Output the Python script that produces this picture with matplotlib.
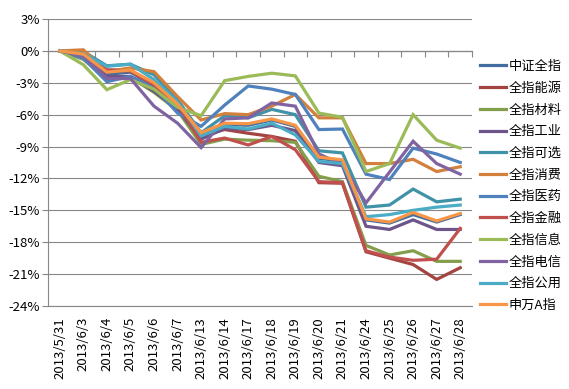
import matplotlib
matplotlib.use('Agg')
import matplotlib.pyplot as plt
import matplotlib.ticker as mticker
import numpy as np

plt.rcParams['font.family'] = ['Noto Sans CJK SC', 'DejaVu Sans']

dates = ['2013/5/31', '2013/6/3', '2013/6/4', '2013/6/5', '2013/6/6', '2013/6/7',
         '2013/6/13', '2013/6/14', '2013/6/17', '2013/6/18', '2013/6/19', '2013/6/20',
         '2013/6/21', '2013/6/24', '2013/6/25', '2013/6/26', '2013/6/27', '2013/6/28']

# cumulative return, %
csi_all = [0, -0.4, -2.2, -2.0, -3.2, -5.2, -7.8, -6.9, -7.0, -6.5, -7.1, -10.1, -10.4, -15.9, -16.2, -15.4, -16.1, -15.4]
energy = [0, -0.4, -1.8, -1.8, -3.6, -5.3, -8.0, -7.4, -7.75, -8.05, -8.5, -12.4, -12.45, -18.9, -19.5, -20.1, -21.5, -20.4]
materials = [0, -0.8, -2.6, -2.5, -3.9, -5.6, -8.8, -8.3, -8.4, -8.45, -8.6, -11.8, -12.3, -18.3, -19.2, -18.8, -19.8, -19.8]
industry = [0, -0.5, -2.4, -2.4, -3.8, -5.5, -8.3, -7.3, -7.4, -7.0, -7.5, -10.5, -10.8, -16.5, -16.8, -15.9, -16.8, -16.8]
discretionary = [0, -0.05, -1.4, -1.25, -2.25, -4.6, -7.7, -6.1, -6.3, -5.5, -6.0, -9.4, -9.6, -14.7, -14.5, -13.0, -14.2, -13.95]
staples = [0, 0.1, -1.95, -1.6, -1.95, -4.3, -6.5, -5.9, -6.0, -5.2, -4.1, -6.3, -6.3, -10.6, -10.6, -10.2, -11.35, -10.9]
health = [0, -0.7, -2.9, -2.4, -3.4, -5.85, -7.1, -5.1, -3.3, -3.6, -4.1, -7.4, -7.35, -11.6, -12.1, -9.15, -9.7, -10.5]
finance = [0, -0.5, -1.8, -1.9, -3.2, -5.0, -8.6, -8.2, -8.85, -8.05, -9.3, -12.3, -12.4, -18.8, -19.4, -19.7, -19.6, -16.7]
info_tech = [0, -1.3, -3.65, -2.7, -3.6, -5.3, -6.1, -2.8, -2.4, -2.1, -2.35, -5.85, -6.25, -11.35, -10.6, -6.0, -8.4, -9.15]
telecom = [0, -0.5, -2.6, -2.6, -5.2, -6.8, -9.1, -6.4, -6.3, -4.9, -5.2, -9.7, -10.7, -14.3, -11.4, -8.5, -10.6, -11.6]
utilities = [0, -0.3, -1.45, -1.25, -2.7, -4.8, -8.0, -7.1, -7.35, -6.8, -7.9, -10.4, -10.6, -15.6, -15.4, -15.0, -14.7, -14.5]
sw_a = [0, -0.3, -2.0, -1.8, -3.0, -5.0, -7.7, -6.8, -6.85, -6.4, -7.0, -10.0, -10.25, -15.8, -16.1, -15.2, -16.0, -15.3]

names = ['中证全指', '全指能源', '全指材料', '全指工业', '全指可选', '全指消费',
         '全指医药', '全指金融', '全指信息', '全指电信', '全指公用', '申万A指']
series = [csi_all, energy, materials, industry, discretionary, staples,
          health, finance, info_tech, telecom, utilities, sw_a]
colors = ['#436DA0', '#A34441', '#849F4C', '#6D558A', '#4092A8', '#D2803C',
          '#4F81BD', '#C0504D', '#9BBB59', '#8064A2', '#4BACC6', '#F79646']

grey = '#878787'

fig = plt.figure(figsize=(5.69, 3.89), dpi=100)
ax = fig.add_axes([48 / 569, 1 - 306 / 389, (472 - 48) / 569, (306 - 19) / 389])

x = np.arange(len(dates))
handles = []
for name, vals, c in zip(names, series, colors):
    h, = ax.plot(x, vals, color=c, lw=2.3, solid_joinstyle='miter', label=name)
    handles.append(h)

ymin, ymax = -24, 3
ax.set_ylim(ymin, ymax)
ax.set_xlim(-0.5, len(dates) - 0.5)
ax.set_yticks(np.arange(ymin, ymax + 1, 3))
ax.yaxis.set_major_formatter(mticker.FuncFormatter(lambda v, p: f'{v:.0f}%'))
ax.grid(axis='y', color=grey, lw=0.8)
ax.set_axisbelow(True)

ax.set_xticks(x)
ax.set_xticklabels(dates, rotation=90, fontsize=9.5)
ax.tick_params(axis='x', length=0, pad=8)
ax.tick_params(axis='y', length=4, color=grey, width=0.8, labelsize=9.5, pad=2)

for s in ['top', 'right']:
    ax.spines[s].set_visible(False)
for s in ['left', 'bottom']:
    ax.spines[s].set_color(grey)
    ax.spines[s].set_linewidth(0.8)

# category axis drawn through 0%
sec = ax.secondary_xaxis((0 - ymin) / (ymax - ymin))
sec.set_alignment('bottom')
sec.set_xticks(np.arange(-0.5, len(dates), 1))
sec.tick_params(length=4, color=grey, width=0.8, labelbottom=False)
sec.spines['bottom'].set_color(grey)
sec.spines['bottom'].set_linewidth(0.9)

fig.legend(handles=handles, loc='center left', bbox_to_anchor=(480 / 569, 1 - 186 / 389),
           frameon=False, fontsize=9.5, handlelength=2.0, handletextpad=0.15,
           labelspacing=0.66, borderpad=0, borderaxespad=0)

fig.savefig('out.png', dpi=100)
